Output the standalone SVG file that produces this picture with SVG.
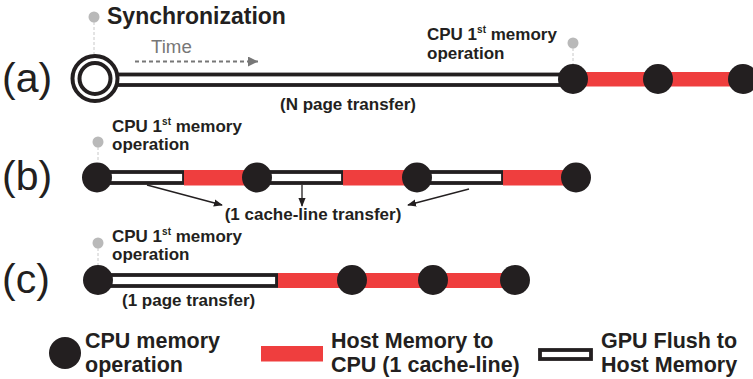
<svg xmlns="http://www.w3.org/2000/svg" width="753" height="379" viewBox="0 0 753 379">
<style>
.b{font-family:"Liberation Sans",Arial,sans-serif;font-weight:bold;fill:#231f20}
.r{font-family:"Liberation Sans",Arial,sans-serif;fill:#231f20}
.lbl{font-size:17px}
.leg{font-size:21.5px}
.row{font-size:41px}
.dot{fill:#231f20}
.red{fill:#ef3e3e}
.flush{fill:#fff;stroke:#231f20;stroke-width:3.8}
.pin{stroke:#c8c8c8;stroke-width:1;stroke-dasharray:3 2}
.pinc{fill:#b9b9b9}
.arr{stroke:#231f20;stroke-width:1.3;fill:none}
</style>
<defs>
<marker id="ah" viewBox="0 0 10 10" refX="9" refY="5" markerWidth="9" markerHeight="9" markerUnits="userSpaceOnUse" orient="auto">
<path d="M0,1 L10,5 L0,9 z" fill="#231f20"/>
</marker>
<marker id="ahg" viewBox="0 0 10 10" refX="10" refY="5" markerWidth="16" markerHeight="10" markerUnits="userSpaceOnUse" orient="auto">
<path d="M0,0 L10,5 L0,10 z" fill="#777"/>
</marker>
</defs>

<!-- row labels -->
<text class="r row" x="2" y="92">(a)</text>
<text class="r row" x="2" y="190">(b)</text>
<text class="r row" x="2" y="293">(c)</text>

<!-- row (a) -->
<g id="row-a">
<line class="pin" x1="94" y1="17" x2="94" y2="54"/>
<circle class="pinc" cx="94" cy="17" r="5.5"/>
<text class="b" x="107" y="24" font-size="23">Synchronization</text>
<text class="r" x="151" y="53" font-size="18.7" style="fill:#777">Time</text>
<line x1="135" y1="61.5" x2="258" y2="61.5" stroke="#777" stroke-width="2" stroke-dasharray="4 3" marker-end="url(#ahg)"/>
<rect class="flush" x="112" y="74.5" width="462" height="10.5"/>
<rect class="red" x="573" y="72" width="180" height="14.5"/>
<circle cx="95" cy="78.5" r="22.5" fill="#fff" stroke="#231f20" stroke-width="4"/>
<circle cx="95" cy="78.5" r="15.5" fill="#fff" stroke="#231f20" stroke-width="4"/>
<text class="b lbl" x="348" y="110" text-anchor="middle">(N page transfer)</text>
<line class="pin" x1="573" y1="43" x2="573" y2="64"/>
<circle class="pinc" cx="573" cy="43" r="5.5"/>
<text class="b lbl" x="427" y="40">CPU 1<tspan font-size="10" dy="-7">st</tspan><tspan dy="7"> memory</tspan></text>
<text class="b lbl" x="427" y="59">operation</text>
<circle class="dot" cx="573" cy="79" r="15"/>
<circle class="dot" cx="658" cy="79" r="15"/>
<circle class="dot" cx="743" cy="79" r="15"/>
</g>

<!-- row (b) -->
<g id="row-b">
<line class="pin" x1="98" y1="142" x2="98" y2="162"/>
<circle class="pinc" cx="98" cy="142" r="5.5"/>
<text class="b lbl" x="112" y="132">CPU 1<tspan font-size="10" dy="-7">st</tspan><tspan dy="7"> memory</tspan></text>
<text class="b lbl" x="112" y="150">operation</text>
<rect class="flush" x="98" y="172" width="86" height="11"/>
<rect class="flush" x="257" y="172" width="86" height="11"/>
<rect class="flush" x="417" y="172" width="86" height="11"/>
<rect class="red" x="184" y="170" width="73" height="15.5"/>
<rect class="red" x="343" y="170" width="74" height="15.5"/>
<rect class="red" x="503" y="170" width="73" height="15.5"/>
<circle class="dot" cx="97" cy="177.5" r="15"/>
<circle class="dot" cx="257" cy="177.5" r="15"/>
<circle class="dot" cx="417" cy="177.5" r="15"/>
<circle class="dot" cx="576" cy="177.5" r="15"/>
<text class="b lbl" x="313" y="220" text-anchor="middle">(1 cache-line transfer)</text>
</g>

<!-- row (c) -->
<g id="row-c">
<line class="pin" x1="98" y1="243" x2="98" y2="265"/>
<circle class="pinc" cx="98" cy="243" r="5.5"/>
<text class="b lbl" x="112" y="242">CPU 1<tspan font-size="10" dy="-7">st</tspan><tspan dy="7"> memory</tspan></text>
<text class="b lbl" x="112" y="260">operation</text>
<rect class="flush" x="98" y="275" width="179" height="11"/>
<rect class="red" x="278" y="273" width="237" height="15"/>
<circle class="dot" cx="98" cy="280" r="15"/>
<circle class="dot" cx="352" cy="280" r="15"/>
<circle class="dot" cx="433" cy="280" r="15"/>
<circle class="dot" cx="515" cy="280" r="15"/>
<text class="b lbl" x="122" y="306">(1 page transfer)</text>
</g>

<!-- connectors -->
<g id="connectors">
<line class="arr" x1="147" y1="185" x2="222" y2="205" marker-end="url(#ah)"/>
<line class="arr" x1="302" y1="185" x2="302" y2="206" marker-end="url(#ah)"/>
<line class="arr" x1="469" y1="189" x2="408" y2="205" marker-end="url(#ah)"/>
</g>

<!-- legend -->
<g id="legend">
<g id="leg-cpu">
<ellipse class="dot" cx="65" cy="353" rx="16" ry="16"/>
<text class="b leg" x="85" y="348">CPU memory</text>
<text class="b leg" x="85" y="372">operation</text>
</g>
<g id="leg-host">
<rect class="red" x="261" y="346" width="62" height="15.5"/>
<text class="b leg" x="331" y="348">Host Memory to</text>
<text class="b leg" x="331" y="372">CPU (1 cache-line)</text>
</g>
<g id="leg-gpu">
<rect class="flush" x="540" y="350" width="51" height="9"/>
<text class="b leg" x="601" y="348">GPU Flush to</text>
<text class="b leg" x="601" y="372">Host Memory</text>
</g>
</g>
</svg>
